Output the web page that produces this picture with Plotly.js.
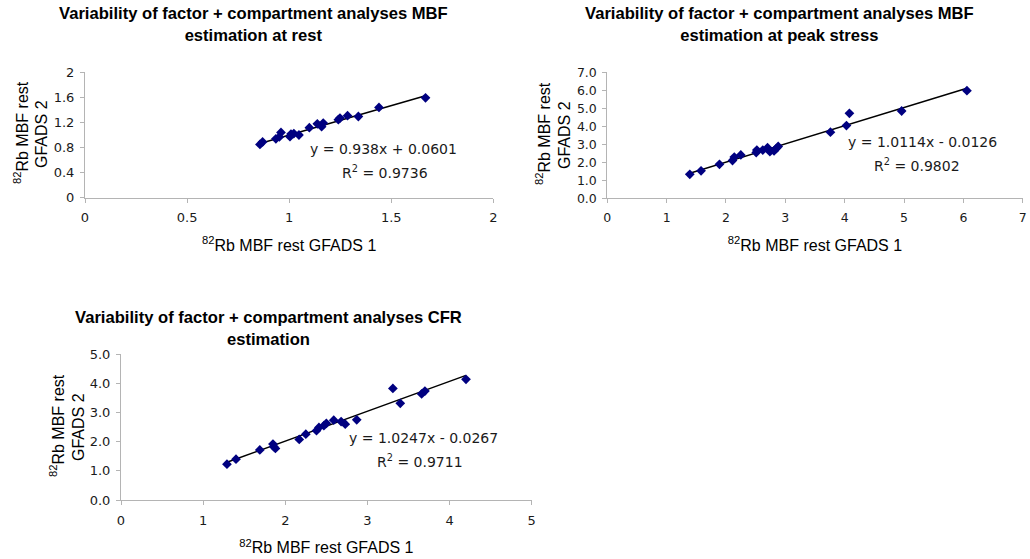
<!DOCTYPE html>
<html>
<head>
<meta charset="utf-8">
<script src="https://cdn.plot.ly/plotly-3.0.1.min.js"></script>
<style>html,body{margin:0;padding:0;background:#fff;}#chart{width:1030px;height:559px;}</style>
</head>
<body>
<div id="chart"></div>
<script>
// Chart 1: MBF at rest
const restX = [0.857, 0.870, 0.935, 0.952, 0.960, 1.004, 1.009, 1.023, 1.048, 1.099, 1.138, 1.159, 1.167, 1.241, 1.249, 1.286, 1.339, 1.440, 1.668];
const restY = [0.850, 0.890, 0.940, 0.970, 1.040, 0.973, 1.015, 1.022, 1.000, 1.117, 1.178, 1.133, 1.190, 1.245, 1.270, 1.308, 1.295, 1.440, 1.593];
const restFit = {slope: 0.938, intercept: 0.0601, r2: 0.9736};

// Chart 2: MBF at peak stress
const stressX = [1.39, 1.58, 1.89, 2.11, 2.14, 2.25, 2.51, 2.52, 2.62, 2.70, 2.74, 2.81, 2.85, 2.88, 3.76, 4.03, 4.08, 4.96, 6.06];
const stressY = [1.33, 1.53, 1.89, 2.10, 2.29, 2.41, 2.54, 2.68, 2.68, 2.81, 2.59, 2.63, 2.78, 2.88, 3.67, 4.04, 4.72, 4.85, 5.98];
const stressFit = {slope: 1.0114, intercept: -0.0126, r2: 0.9802};

// Chart 3: CFR
const cfrX = [1.29, 1.40, 1.69, 1.85, 1.86, 1.88, 2.17, 2.25, 2.38, 2.41, 2.47, 2.50, 2.59, 2.68, 2.73, 2.87, 3.31, 3.40, 3.66, 3.70, 4.20];
const cfrY = [1.23, 1.40, 1.72, 1.92, 1.83, 1.77, 2.08, 2.26, 2.38, 2.49, 2.55, 2.63, 2.74, 2.69, 2.60, 2.75, 3.83, 3.32, 3.64, 3.74, 4.14];
const cfrFit = {slope: 1.0247, intercept: -0.0267, r2: 0.9711};

const titles = [
  "Variability of factor + compartment analyses MBF<br>estimation at rest",
  "Variability of factor + compartment analyses MBF<br>estimation at peak stress",
  "Variability of factor + compartment analyses CFR<br>estimation"
];
const xTitle = "<sup>82</sup>Rb MBF rest GFADS 1";
const yTitleLines = ["<sup>82</sup>Rb MBF rest", "GFADS 2"];

const W = 1030, H = 559;
const px = v => v / W;
const py = v => 1 - v / H;

const sets = [
  {x: restX, y: restY, fit: restFit, xa: 'x', ya: 'y', xr: [0, 2], yr: [0, 2], xd: [85, 493.3], yd: [72.3, 197.7], xdt: 0.5, ydt: 0.4, yfmt: '', tf: 13,
   eq: [383, 149], r2: [385, 172], tt: [253, 25], yt: [[21, 133], [41, 134]]},
  {x: stressX, y: stressY, fit: stressFit, xa: 'x2', ya: 'y2', xr: [0, 7], yr: [0, 7], xd: [607.3, 1022.7], yd: [72.3, 198.3], xdt: 1, ydt: 1, yfmt: '.1f', tf: 12.5,
   eq: [922, 142], r2: [917, 165], tt: [779, 25], yt: [[543, 134], [564, 135]]},
  {x: cfrX, y: cfrY, fit: cfrFit, xa: 'x3', ya: 'y3', xr: [0, 5], yr: [0, 5], xd: [121, 531.7], yd: [354.3, 500], xdt: 1, ydt: 1, yfmt: '.1f', tf: 13,
   eq: [423, 438], r2: [420, 461], tt: [268, 328], yt: [[57, 426], [78, 427]]}
];

const traces = [];
const layout = {
  width: W, height: H,
  margin: {l: 0, r: 0, t: 0, b: 0},
  paper_bgcolor: '#ffffff', plot_bgcolor: '#ffffff',
  showlegend: false,
  font: {family: 'DejaVu Sans, Verdana, sans-serif', size: 12, color: '#1a1a1a'},
  annotations: []
};

sets.forEach((s, i) => {
  const xmin = Math.min(...s.x), xmax = Math.max(...s.x);
  traces.push({
    type: 'scatter', mode: 'lines', xaxis: s.xa, yaxis: s.ya,
    x: [xmin, xmax],
    y: [s.fit.slope * xmin + s.fit.intercept, s.fit.slope * xmax + s.fit.intercept],
    line: {color: '#000000', width: 1.5}, hoverinfo: 'skip'
  });
  traces.push({
    type: 'scatter', mode: 'markers', xaxis: s.xa, yaxis: s.ya,
    x: s.x, y: s.y,
    marker: {symbol: 'diamond', size: 7.5, color: '#000080'}
  });
  const n = i === 0 ? '' : String(i + 1);
  layout['xaxis' + n] = {
    domain: [px(s.xd[0]), px(s.xd[1])], anchor: 'y' + n,
    range: s.xr, dtick: s.xdt, tick0: 0,
    showgrid: false, zeroline: false, showline: true, linecolor: '#b4b4b4', linewidth: 1,
    ticks: 'outside', ticklen: 4, tickcolor: '#b4b4b4', ticklabelstandoff: 4,
    tickfont: {family: 'DejaVu Sans, Verdana, sans-serif', size: s.tf, color: '#1a1a1a'},
    title: {text: xTitle, font: {family: 'Liberation Sans, Arial, sans-serif', size: 16, color: '#000'}, standoff: 15}
  };
  layout['yaxis' + n] = {
    domain: [py(s.yd[1]), py(s.yd[0])], anchor: 'x' + n,
    range: s.yr, dtick: s.ydt, tick0: 0, tickformat: s.yfmt,
    showgrid: false, zeroline: false, showline: true, linecolor: '#b4b4b4', linewidth: 1,
    ticks: 'outside', ticklen: 4, tickcolor: '#b4b4b4', ticklabelstandoff: 3,
    tickfont: {family: 'DejaVu Sans, Verdana, sans-serif', size: s.tf, color: '#1a1a1a'}
  };
  yTitleLines.forEach((line, k) => {
    layout.annotations.push({
      xref: 'paper', yref: 'paper', x: px(s.yt[k][0]), y: py(s.yt[k][1]), xanchor: 'center', yanchor: 'middle',
      text: line, textangle: -90, showarrow: false,
      font: {family: 'Liberation Sans, Arial, sans-serif', size: 16, color: '#000'}
    });
  });
  layout.annotations.push({
    xref: 'paper', yref: 'paper', x: px(s.tt[0]), y: py(s.tt[1]), xanchor: 'center', yanchor: 'middle',
    text: '<b>' + titles[i] + '</b>', showarrow: false,
    font: {family: 'Liberation Sans, Arial, sans-serif', size: 16.6, color: '#000'}
  });
  layout.annotations.push({
    xref: 'paper', yref: 'paper', x: px(s.eq[0]), y: py(s.eq[1]), xanchor: 'center', yanchor: 'middle',
    text: 'y = ' + s.fit.slope + 'x ' + (s.fit.intercept < 0 ? '- ' : '+ ') + Math.abs(s.fit.intercept),
    showarrow: false, font: {family: 'DejaVu Sans, Verdana, sans-serif', size: 14, color: '#1a1a1a'}
  });
  layout.annotations.push({
    xref: 'paper', yref: 'paper', x: px(s.r2[0]), y: py(s.r2[1]), xanchor: 'center', yanchor: 'middle',
    text: 'R<sup>2</sup> = ' + s.fit.r2,
    showarrow: false, font: {family: 'DejaVu Sans, Verdana, sans-serif', size: 14, color: '#1a1a1a'}
  });
});

Plotly.newPlot('chart', traces, layout, {displayModeBar: false, staticPlot: true});
</script>
</body>
</html>
